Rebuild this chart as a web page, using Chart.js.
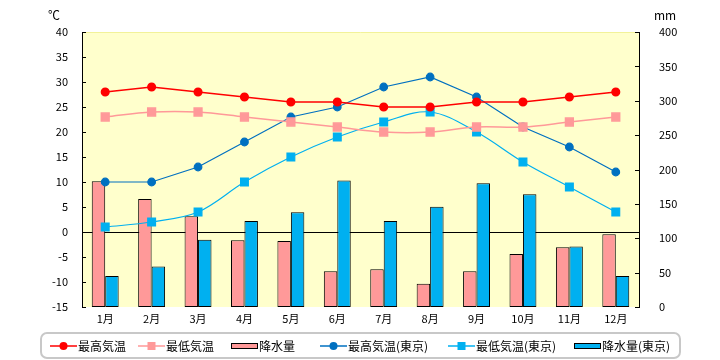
<!DOCTYPE html>
<html>
<head>
<meta charset="utf-8">
<script src="https://cdn.jsdelivr.net/npm/chart.js@4"></script>
<style>
  body { margin: 0; background: #fff; }
</style>
</head>
<body>
<canvas id="climate-chart" width="720" height="360"></canvas>
<script>
const months = ['1月', '2月', '3月', '4月', '5月', '6月', '7月', '8月', '9月', '10月', '11月', '12月'];
const maxTemp = [28, 29, 28, 27, 26, 26, 25, 25, 26, 26, 27, 28];
const minTemp = [23, 24, 24, 23, 22, 21, 20, 20, 21, 21, 22, 23];
const rain = [183, 157, 132, 97, 96, 52, 55, 34, 52, 77, 87, 106];
const tokyoMax = [10, 10, 13, 18, 23, 25, 29, 31, 27, 21, 17, 12];
const tokyoMin = [1, 2, 4, 10, 15, 19, 22, 24, 20, 14, 9, 4];
const tokyoRain = [45, 59, 98, 125, 138, 184, 125, 146, 180, 164, 88, 45];

const tempTicks = [-15, -10, -5, 0, 5, 10, 15, 20, 25, 30, 35, 40];
const rainTicks = [0, 50, 100, 150, 200, 250, 300, 350, 400];

const fontFamily = '"Noto Sans CJK JP", "Noto Sans", sans-serif';

// x start of each legend item (symbol), in legend order
const legendX = [50, 138, 231, 320, 448, 574];

const plotBackground = {
    id: 'plotBackground',
    beforeDraw(chart) {
        const { ctx, chartArea: a } = chart;
        ctx.save();
        ctx.fillStyle = '#FFFFCC';
        ctx.fillRect(a.left, a.top, a.right - a.left, a.bottom - a.top);
        ctx.strokeStyle = '#F2F299';
        ctx.lineWidth = 1;
        ctx.beginPath();
        ctx.moveTo(a.left, a.top + 0.5);
        ctx.lineTo(a.right, a.top + 0.5);
        ctx.stroke();
        ctx.restore();
    }
};

const extras = {
    id: 'extras',
    afterDraw(chart) {
        const { ctx, chartArea: a } = chart;
        const y = chart.scales.y;
        const y2 = chart.scales.y2;
        ctx.save();
        // inward tick marks
        ctx.strokeStyle = '#000';
        ctx.lineWidth = 1;
        ctx.beginPath();
        y.ticks.forEach(t => {
            const py = Math.round(y.getPixelForValue(t.value)) + 0.5;
            ctx.moveTo(a.left, py);
            ctx.lineTo(a.left + 4, py);
        });
        y2.ticks.forEach(t => {
            const py = Math.round(y2.getPixelForValue(t.value)) + 0.5;
            ctx.moveTo(a.right - 4, py);
            ctx.lineTo(a.right, py);
        });
        ctx.stroke();

        // units
        ctx.fillStyle = '#000';
        ctx.font = '12px ' + fontFamily;
        ctx.textBaseline = 'middle';
        ctx.textAlign = 'left';
        ctx.fillText('℃', 48, 15);
        ctx.fillText('mm', 654, 15);

        // legend box
        const bx = 41, by = 333, bw = 639, bh = 25, r = 6;
        ctx.strokeStyle = '#C8C8C8';
        ctx.lineWidth = 2;
        ctx.beginPath();
        ctx.roundRect(bx, by, bw, bh, r);
        ctx.stroke();

        const cy = 346;
        chart.data.datasets.forEach((ds, i) => {
            const x = legendX[i];
            if (ds.type === 'bar') {
                ctx.fillStyle = ds.backgroundColor;
                ctx.fillRect(x, cy - 3, 27, 6);
                ctx.strokeStyle = '#000';
                ctx.lineWidth = 1;
                ctx.strokeRect(x + 0.5, cy - 2.5, 26, 5);
            } else {
                ctx.strokeStyle = ds.borderColor;
                ctx.lineWidth = 1.5;
                ctx.beginPath();
                ctx.moveTo(x, cy);
                ctx.lineTo(x + 27, cy);
                ctx.stroke();
                ctx.fillStyle = ds.pointBackgroundColor;
                if (ds.pointStyle === 'rect') {
                    ctx.fillRect(x + 13.5 - 4, cy - 4, 8, 8);
                } else {
                    ctx.beginPath();
                    ctx.arc(x + 13.5, cy, 4, 0, Math.PI * 2);
                    ctx.fill();
                }
            }
            ctx.fillStyle = '#000';
            ctx.font = '12px ' + fontFamily;
            ctx.textAlign = 'left';
            ctx.fillText(ds.label, x + 28, cy);
        });
        ctx.restore();
    }
};

function lineSet(label, data, color, style, tension, width) {
    return {
        type: 'line',
        label: label,
        data: data,
        yAxisID: 'y',
        borderColor: color,
        backgroundColor: color,
        pointBackgroundColor: color,
        pointBorderColor: color,
        pointStyle: style,
        pointRadius: style === 'rect' ? 5.5 : 3.8,
        borderWidth: width,
        tension: tension,
        order: 1
    };
}

function barSet(label, data, color) {
    return {
        type: 'bar',
        label: label,
        data: data,
        yAxisID: 'y2',
        backgroundColor: color,
        borderColor: '#000',
        borderWidth: 1,
        borderSkipped: false,
        categoryPercentage: 0.58,
        barPercentage: 1.0,
        order: 2
    };
}

const ctx = document.getElementById('climate-chart').getContext('2d');
const chart = new Chart(ctx, {
    data: {
        labels: months,
        datasets: [
            lineSet('最高気温', maxTemp, '#FF0000', 'circle', 0, 1.5),
            lineSet('最低気温', minTemp, '#FF9999', 'rect', 0.35, 1.5),
            barSet('降水量', rain, '#FF9999'),
            lineSet('最高気温(東京)', tokyoMax, '#0070C0', 'circle', 0, 1.2),
            lineSet('最低気温(東京)', tokyoMin, '#00B0F0', 'rect', 0.35, 1.2),
            barSet('降水量(東京)', tokyoRain, '#00B0F0')
        ]
    },
    options: {
        responsive: false,
        animation: false,
        layout: { padding: { top: 32, bottom: 28, left: 0, right: 0 } },
        plugins: {
            legend: { display: false },
            tooltip: { enabled: false }
        },
        scales: {
            x: {
                offset: true,
                grid: { display: false, drawTicks: false },
                border: { display: false },
                ticks: { color: '#000', font: { family: fontFamily, size: 11 }, padding: 5 },
                afterFit: s => { s.height = 25; }
            },
            y: {
                position: 'left',
                min: -15,
                max: 40,
                afterBuildTicks: s => { s.ticks = tempTicks.map(v => ({ value: v })); },
                grid: {
                    drawTicks: false,
                    color: c => (c.tick && c.tick.value === 0 ? '#000' : 'rgba(0,0,0,0)'),
                    lineWidth: 1
                },
                border: { display: true, color: '#000', width: 1 },
                ticks: { color: '#000', font: { family: fontFamily, size: 11 }, padding: 14 },
                afterFit: s => { s.width = 82; }
            },
            y2: {
                position: 'right',
                min: 0,
                max: 400,
                afterBuildTicks: s => { s.ticks = rainTicks.map(v => ({ value: v })); },
                grid: { display: false, drawOnChartArea: false },
                border: { display: true, color: '#000', width: 1 },
                ticks: { color: '#000', font: { family: fontFamily, size: 11 }, padding: 12 },
                afterFit: s => { s.width = 81; }
            }
        }
    },
    plugins: [plotBackground, extras]
});
</script>
</body>
</html>
